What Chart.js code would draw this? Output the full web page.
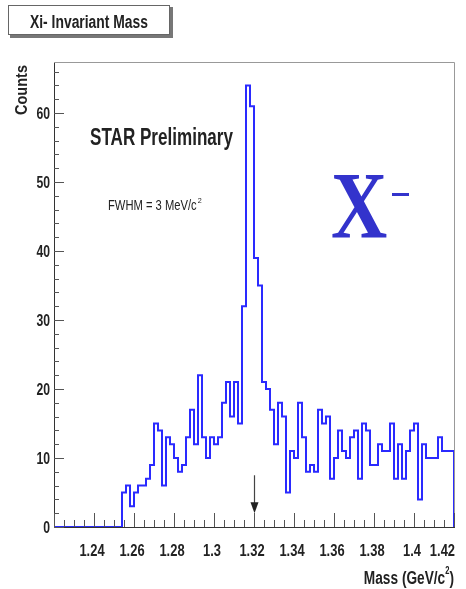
<!DOCTYPE html>
<html>
<head>
<meta charset="utf-8">
<title>Xi- Invariant Mass</title>
<script src="https://cdn.jsdelivr.net/npm/chart.js@4/dist/chart.umd.min.js"></script>
<style>
  body { margin: 0; background: #fff; }
  #wrap { width: 466px; height: 589px; }
</style>
</head>
<body>
<div id="wrap"><canvas id="massChart" width="466" height="589"></canvas></div>
<script>
// histogram binning (GeV/c^2)
const binStart = 1.22;
const binWidth = 0.002;

// counts per bin, 1.220 ... 1.418
const counts = [
  0, 0, 0, 0, 0, 0, 0, 0, 0, 0,
  0, 0, 0, 0, 0, 0, 0, 0, 5, 6,
  3, 5, 6, 6, 7, 9, 15, 14, 6, 13,
  12, 10, 8, 9, 13, 17, 12, 22, 13, 10,
  13, 12, 13, 18, 21, 16, 21, 15, 32, 64,
  61, 39, 35, 21, 20, 17, 12, 18, 16, 5,
  11, 10, 18, 13, 8, 9, 8, 17, 15, 16,
  7, 10, 14, 11, 10, 13, 14, 7, 15, 14,
  9, 9, 12, 11, 11, 15, 7, 12, 7, 11,
  14, 15, 4, 12, 10, 10, 10, 13, 11, 11
];

// axis ranges and tick labels
const massRange = [1.22, 1.42];
const countRange = [0, 67.4];
const xTickLabels = ["1.24", "1.26", "1.28", "1.3", "1.32", "1.34", "1.36", "1.38", "1.4", "1.42"];
const yTickLabels = ["0", "10", "20", "30", "40", "50", "60"];
const arrowMass = 1.32; // marker for the Xi mass

const sansFont = "'Liberation Sans', Arial, sans-serif";
const narrow = 0.76; // horizontal squeeze to mimic Helvetica narrow

// bin edges -> step points
const r6 = (v) => Math.round(v * 1e6) / 1e6;
const histPoints = counts.map((c, i) => ({ x: r6(binStart + i * binWidth), y: c }));
const lastEdge = r6(binStart + counts.length * binWidth);
histPoints.push({ x: lastEdge, y: counts[counts.length - 1] });
histPoints.push({ x: lastEdge, y: 0 });

// draw a run of text pieces squeezed horizontally by sx
function drawParts(ctx, parts, x, y, sx, align) {
  let total = 0;
  parts.forEach((p) => {
    ctx.font = (p.weight || "bold") + " " + p.size + "px " + sansFont;
    p.w = ctx.measureText(p.t).width * sx;
    total += p.w;
  });
  let cx = align === "right" ? x - total : align === "center" ? x - total / 2 : x;
  ctx.textAlign = "left";
  parts.forEach((p) => {
    ctx.font = (p.weight || "bold") + " " + p.size + "px " + sansFont;
    ctx.save();
    ctx.translate(cx, y + (p.dy || 0));
    ctx.scale(sx, 1);
    ctx.fillText(p.t, 0, 0);
    ctx.restore();
    cx += p.w;
  });
  return total;
}

// same but squeezed to a target width
function fitText(ctx, text, x, y, size, weight, width, align) {
  ctx.font = weight + " " + size + "px " + sansFont;
  const sx = width / ctx.measureText(text).width;
  drawParts(ctx, [{ t: text, size: size, weight: weight }], x, y, sx, align);
}

// ROOT-like decorations: inward ticks, frame, labels, arrow
const rootStyle = {
  id: "rootStyle",
  afterDraw(chart) {
    const ctx = chart.ctx;
    const a = chart.chartArea;
    const xs = chart.scales.x;
    const ys = chart.scales.y;
    ctx.save();

    // top and right frame
    ctx.strokeStyle = "#999";
    ctx.lineWidth = 1;
    ctx.beginPath();
    ctx.moveTo(a.left, a.top + 0.5);
    ctx.lineTo(a.right + 0.5, a.top + 0.5);
    ctx.lineTo(a.right + 0.5, a.bottom);
    ctx.stroke();

    // x ticks, 4 divisions per label step
    ctx.strokeStyle = "#555";
    ctx.beginPath();
    for (let k = 0; k <= 40; k++) {
      const px = Math.round(xs.getPixelForValue(massRange[0] + k * 0.005)) + 0.5;
      const len = k % 4 === 0 ? 14 : 7;
      ctx.moveTo(px, a.bottom);
      ctx.lineTo(px, a.bottom - len);
    }
    // y ticks, 5 divisions per label step
    for (let v = 0; v <= countRange[1]; v += 2) {
      const py = Math.round(ys.getPixelForValue(v)) + 0.5;
      const len = v % 10 === 0 ? 10 : 5;
      ctx.moveTo(a.left, py);
      ctx.lineTo(a.left + len, py);
    }
    ctx.stroke();

    // tick labels
    ctx.fillStyle = "#222";
    ctx.textBaseline = "alphabetic";
    xTickLabels.forEach((lab) => {
      const px = xs.getPixelForValue(parseFloat(lab)) - 2;
      ctx.font = "bold 17px " + sansFont;
      const half = (ctx.measureText(lab).width * narrow) / 2;
      const cx = Math.min(px, 455 - half);
      drawParts(ctx, [{ t: lab, size: 17 }], cx, 556, narrow, "center");
    });
    yTickLabels.forEach((lab) => {
      const py = ys.getPixelForValue(parseFloat(lab));
      drawParts(ctx, [{ t: lab, size: 16 }], 50, py + 6, narrow, "right");
    });

    // arrow at the Xi mass
    const ax = Math.round(xs.getPixelForValue(arrowMass)) + 0.5;
    ctx.strokeStyle = "#444";
    ctx.fillStyle = "#222";
    ctx.lineWidth = 1.2;
    ctx.beginPath();
    ctx.moveTo(ax, ys.getPixelForValue(7.5));
    ctx.lineTo(ax, ys.getPixelForValue(3.3));
    ctx.stroke();
    ctx.beginPath();
    ctx.moveTo(ax - 4, ys.getPixelForValue(3.6));
    ctx.lineTo(ax + 4, ys.getPixelForValue(3.6));
    ctx.lineTo(ax, ys.getPixelForValue(2.0));
    ctx.closePath();
    ctx.fill();

    // title box with shadow
    ctx.fillStyle = "#777";
    ctx.fillRect(10, 7, 163, 31);
    ctx.fillStyle = "#fff";
    ctx.fillRect(8, 5, 162, 30);
    ctx.strokeStyle = "#666";
    ctx.lineWidth = 1;
    ctx.strokeRect(8.5, 5.5, 161, 29);
    ctx.fillStyle = "#222";
    fitText(ctx, "Xi- Invariant Mass", 89, 28, 18, "bold", 118, "center");

    // axis titles
    ctx.save();
    ctx.translate(27, 65);
    ctx.rotate(-Math.PI / 2);
    fitText(ctx, "Counts", 0, 0, 16, "bold", 50, "right");
    ctx.restore();

    drawParts(ctx, [
      { t: "Mass (GeV/c", size: 18 },
      { t: "2", size: 10, dy: -10 },
      { t: ")", size: 18 },
    ], 454, 584, 0.76, "right");

    // in-plot labels
    fitText(ctx, "STAR Preliminary", 90, 145, 23, "bold", 143, "left");
    const wF = drawParts(ctx, [{ t: "FWHM = 3 MeV/c", size: 14, weight: "normal" }], 108, 210, 0.8, "left");
    drawParts(ctx, [{ t: "2", size: 8, weight: "normal" }], 109 + wF, 203, 0.9, "left");

    // big Xi- symbol
    ctx.fillStyle = "#3333cc";
    ctx.save();
    ctx.translate(331, 238);
    ctx.scale(0.82, 1);
    ctx.textAlign = "left";
    ctx.font = "bold 95px 'Liberation Serif', 'DejaVu Serif', serif";
    ctx.fillText("X", 0, 0);
    ctx.restore();
    ctx.fillRect(392, 193, 17, 3);

    ctx.restore();
  }
};

new Chart(document.getElementById("massChart"), {
  type: "line",
  data: {
    datasets: [
      {
        label: "Xi- Invariant Mass",
        data: histPoints,
        stepped: "after",
        borderColor: "#2a2aff",
        borderWidth: 2,
        pointRadius: 0,
        fill: false,
      },
    ],
  },
  options: {
    responsive: false,
    animation: false,
    layout: { padding: { top: 62, right: 12, left: 0, bottom: 0 } },
    plugins: { legend: { display: false }, tooltip: { enabled: false } },
    scales: {
      x: {
        type: "linear",
        min: massRange[0],
        max: massRange[1],
        grid: { display: false, drawTicks: false },
        border: { display: true, color: "#333", width: 1 },
        ticks: { display: false },
        afterFit: (scale) => { scale.height = 62; },
      },
      y: {
        min: countRange[0],
        max: countRange[1],
        grid: { display: false, drawTicks: false },
        border: { display: true, color: "#333", width: 1 },
        ticks: { display: false },
        afterFit: (scale) => { scale.width = 54; },
      },
    },
  },
  plugins: [rootStyle],
});
</script>
</body>
</html>
